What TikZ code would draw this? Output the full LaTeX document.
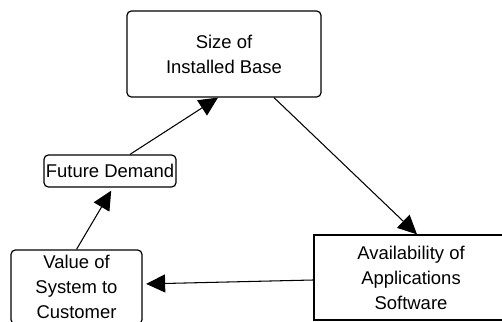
\documentclass[tikz,border=0pt]{standalone}
\usepackage{fontspec}
\setmainfont{Liberation Sans}
\usepackage{tikz}
\usetikzlibrary{arrows.meta,positioning}

\begin{document}
\begin{tikzpicture}[
    font=\fontsize{10.5}{14.2}\selectfont,
    block/.style={rectangle, draw, line width=0.7pt, rounded corners=2.5pt, inner sep=0pt, align=center},
    blocks/.style={rectangle, draw, line width=0.7pt, inner sep=0pt, align=center},
    arrow/.style={-{Triangle[length=3.8mm, width=3.6mm]}, line width=0.6pt}
]
\useasboundingbox (0,0) rectangle (10.04,6.44);

% Nodes
\node[block, minimum width=3.88cm, minimum height=1.72cm] (size) at (4.48,5.36) {Size of\\Installed Base};
\node[block, minimum width=2.64cm, minimum height=0.64cm] (demand) at (2.2,3.02) {Future Demand};
\node[block, minimum width=2.62cm, minimum height=1.48cm] (value) at (1.53,0.7) {Value of\\System to\\Customer};
\node[blocks, minimum width=3.88cm, minimum height=1.7cm] (avail) at (8.22,0.89) {Availability of\\Applications\\Software};

% Arrows
\draw[arrow] ([xshift=0.4cm]demand.north) -- ([xshift=-0.12cm]size.south);
\draw[arrow] ([xshift=1.0cm]size.south) -- ([xshift=0.12cm]avail.north);
\draw[arrow, shorten >=2pt] (value.north) -- ([xshift=0.06cm]demand.south);
\draw[arrow, shorten >=2pt] ([yshift=-0.05cm]avail.west) -- ([yshift=0.06cm]value.east);

\end{tikzpicture}
\end{document}
